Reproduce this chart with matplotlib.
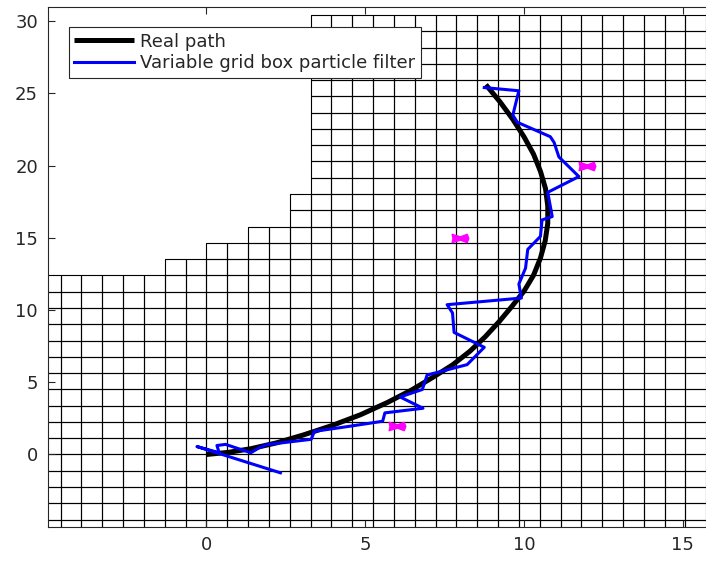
import numpy as np
import matplotlib
matplotlib.use('Agg')
import matplotlib.pyplot as plt
from matplotlib.patches import Rectangle
from matplotlib.collections import PatchCollection
from matplotlib.path import Path

# grid boxes
CELL_W = 0.656
CELL_H = 1.127
COLS = list(range(-8, 24))
ROW_BOTTOM = -5
# number of boxes above y=0 in each column
COL_TOPS = [11, 11, 11, 11, 11, 11, 12, 12, 13, 13, 14, 14, 16] + [27] * 19

# real path
real_x = [0.0, 0.7, 1.4, 2.2, 3.05, 3.95, 4.85, 5.7, 6.45, 7.1, 7.75, 8.3,
          8.78, 9.22, 9.62, 10.0, 10.3, 10.52, 10.67, 10.75, 10.75, 10.68,
          10.52, 10.3, 10.0, 9.65, 9.25, 8.8]
real_y = [0.0, 0.15, 0.4, 0.8, 1.35, 2.0, 2.75, 3.6, 4.45, 5.3, 6.2, 7.15,
          8.15, 9.2, 10.25, 11.3, 12.4, 13.6, 14.8, 16.0, 17.2, 18.4,
          19.6, 20.8, 22.0, 23.2, 24.4, 25.6]

# estimated path
est_x = [2.33, -0.30, 0.40, 0.33, 0.60, 0.90, 1.40, 1.65, 1.90, 3.30, 3.40,
         4.50, 5.55, 5.62, 6.82, 6.10, 6.80, 6.95, 8.21, 8.75, 7.80, 7.75,
         7.58, 9.92, 9.84, 10.05, 10.12, 10.52, 10.57, 10.89, 10.75, 11.73,
         11.10, 10.95, 10.83, 9.79, 9.65, 9.84, 8.75]
est_y = [-1.27, 0.55, 0.12, 0.62, 0.70, 0.48, 0.12, 0.45, 0.68, 1.05, 1.60,
         1.95, 2.30, 2.88, 3.20, 3.98, 4.50, 5.50, 6.22, 7.42, 8.45, 9.80,
         10.37, 10.83, 11.80, 12.90, 14.20, 15.10, 16.24, 16.47, 18.15, 19.24,
         20.60, 21.60, 22.00, 23.00, 23.50, 25.18, 25.40]

# landmarks
lm_x = [6, 8, 12]
lm_y = [2, 15, 20]

fig = plt.figure(figsize=(7.06, 5.62), dpi=100)
ax = fig.add_axes([47.7 / 706, 35.3 / 562, 21 * 31.75 / 706, 520 / 562])

boxes = []
for i, top in zip(COLS, COL_TOPS):
    for j in range(ROW_BOTTOM, top):
        boxes.append(Rectangle((i * CELL_W, j * CELL_H), CELL_W, CELL_H))
ax.add_collection(PatchCollection(boxes, facecolor='none', edgecolor='black',
                                  linewidth=0.8, zorder=1))

ax.plot(real_x, real_y, color='black', linewidth=3.6, label='Real path',
        solid_capstyle='butt', solid_joinstyle='round', zorder=3)
ax.plot(est_x, est_y, color='blue', linewidth=2.2,
        label='Variable grid box particle filter', zorder=4)

star = Path([(-1, 0.5), (0, 0.2), (0.8, 0.5), (1, 0), (0.8, -0.5),
             (0, -0.2), (-1, -0.5), (-0.9, 0), (-1, 0.5)],
            [Path.MOVETO] + [Path.LINETO] * 7 + [Path.CLOSEPOLY])
ax.plot(lm_x, lm_y, linestyle='none', marker=star, markersize=12,
        color='magenta', zorder=5)

ax.set_xlim(-5, 16)
ax.set_ylim(-5, 31)
ax.set_xticks([0, 5, 10, 15])
ax.set_yticks([0, 5, 10, 15, 20, 25, 30])
ax.tick_params(direction='in', top=True, right=True, length=5, width=0.8,
               color='#262626', labelcolor='#262626', labelsize=13, pad=7)
for s in ax.spines.values():
    s.set_color('#262626')
    s.set_linewidth(0.8)

leg = ax.legend(loc='upper left', bbox_to_anchor=(69 / 706, 1 - 27.3 / 562),
                bbox_transform=fig.transFigure, borderaxespad=0, fontsize=13,
                handlelength=3.3, handletextpad=0.33, borderpad=0.3,
                labelspacing=0.2, fancybox=False, framealpha=1,
                edgecolor='#262626')
leg.get_frame().set_linewidth(0.8)
for t in leg.get_texts():
    t.set_color('#262626')

fig.savefig('out.png', dpi=100)
